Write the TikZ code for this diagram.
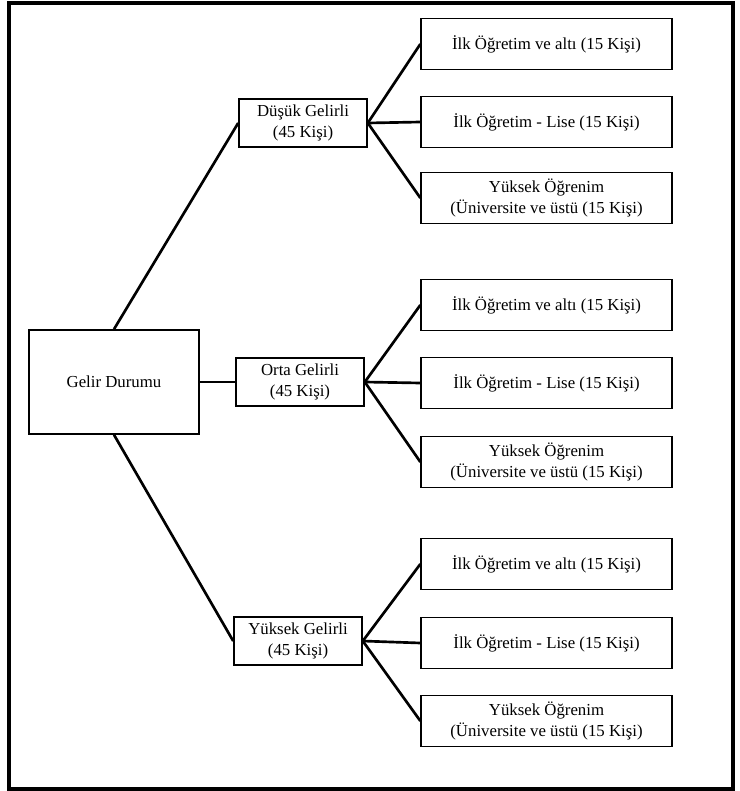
\documentclass[tikz,border=0pt]{standalone}
\usepackage{fontspec}
\setmainfont{Liberation Serif}
\usetikzlibrary{positioning}

\begin{document}
\begin{tikzpicture}[x=.75pt,y=-.75pt,
  kutu/.style={draw,line width=1.2pt,inner sep=0pt,align=center,font=\fontsize{12.6}{15.5}\selectfont},
  ara/.style={kutu,minimum width=96pt,minimum height=36pt},
  uc/.style={kutu,minimum width=188pt,minimum height=38pt},
  bag/.style={line width=2pt}]
\useasboundingbox (0,0) rectangle (739,791);
\draw[line width=3pt] (9,3) rectangle (733,789); % cerceve

\node[kutu,minimum width=127.5pt,minimum height=78pt] (gelir) at (114,382) {Gelir Durumu};

\node[ara] (dusuk) at (303,123) {Düşük Gelirli\\(45 Kişi)};
\node[ara] (orta) at (300,382) {Orta Gelirli\\(45 Kişi)};
\node[ara] (yuksek) at (298,641) {Yüksek Gelirli\\(45 Kişi)};

\node[uc] (d1) at (546.5,44) {İlk Öğretim ve altı (15 Kişi)};
\node[uc] (d2) at (546.5,122) {İlk Öğretim - Lise (15 Kişi)};
\node[uc] (d3) at (546.5,198) {Yüksek Öğrenim\\(Üniversite ve üstü (15 Kişi)};
\node[uc] (o1) at (546.5,305) {İlk Öğretim ve altı (15 Kişi)};
\node[uc] (o2) at (546.5,383) {İlk Öğretim - Lise (15 Kişi)};
\node[uc] (o3) at (546.5,462) {Yüksek Öğrenim\\(Üniversite ve üstü (15 Kişi)};
\node[uc] (y1) at (546.5,564) {İlk Öğretim ve altı (15 Kişi)};
\node[uc] (y2) at (546.5,643) {İlk Öğretim - Lise (15 Kişi)};
\node[uc] (y3) at (546.5,721) {Yüksek Öğrenim\\(Üniversite ve üstü (15 Kişi)};

\draw[bag] (gelir.north) -- (dusuk.west);
\draw[bag] (gelir.east) -- (orta.west);
\draw[bag] (gelir.south) -- (yuksek.west);

\draw[bag] (dusuk.east) -- (d1.west);
\draw[bag] (dusuk.east) -- (d2.west);
\draw[bag] (dusuk.east) -- (d3.west);
\draw[bag] (orta.east) -- (o1.west);
\draw[bag] (orta.east) -- (o2.west);
\draw[bag] (orta.east) -- (o3.west);
\draw[bag] (yuksek.east) -- (y1.west);
\draw[bag] (yuksek.east) -- (y2.west);
\draw[bag] (yuksek.east) -- (y3.west);
\end{tikzpicture}
\end{document}
